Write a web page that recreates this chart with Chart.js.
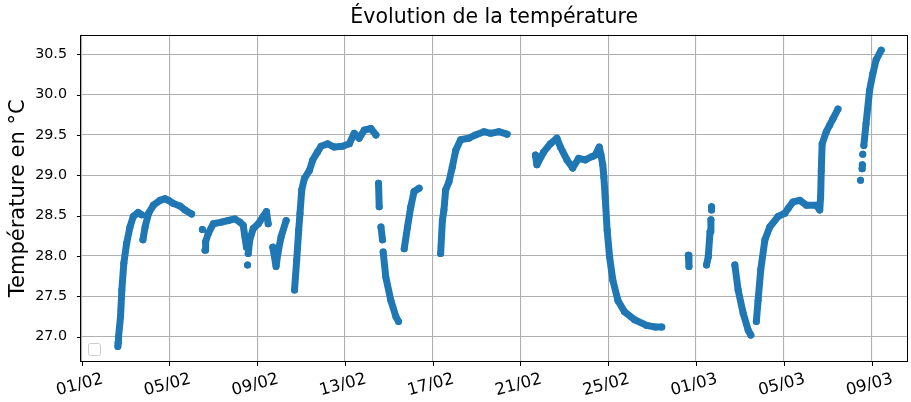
<!DOCTYPE html>
<html>
<head>
<meta charset="utf-8">
<script src="https://cdn.jsdelivr.net/npm/chart.js@4"></script>
<style>
  body { margin: 0; background: #fff; }
  canvas { display: block; }
</style>
</head>
<body>
<canvas id="tempChart" width="911" height="402"></canvas>
<script>
// jours depuis le 01/02 00:00, null = coupure entre les séries de mesures
const jours = [
  1.65, 1.66, 1.68, 1.77, 1.83, 1.92, 2.05, 2.20, 2.35, 2.57, 2.73, null,
  2.79, 2.89, 3.05, 3.27, 3.57, 3.80, 3.95, 4.18, 4.48, 4.71, 5.01, null,
  5.50, null,
  5.62, 5.65, 5.77, 6.00, 6.38, 6.68, 6.98, 7.21, 7.36, 7.44, 7.51, null,
  7.56, null,
  7.59, 7.66, 7.82, 8.05, 8.27, 8.42, 8.50, null,
  8.71, 8.86, 8.94, 9.09, 9.32, null,
  9.70, 9.80, 9.89, 9.95, 10.03, 10.15, 10.38, 10.53, 10.75, 10.91, 11.21, 11.51, 11.89, 12.20, 12.42, 12.65, 12.88, 13.18, 13.41, null,
  13.53, 13.56, null,
  13.64, 13.71, null,
  13.74, 13.86, 14.09, 14.32, 14.44, null,
  14.70, 14.85, 15.00, 15.15, 15.38, null,
  16.36, 16.44, 16.51, 16.59, 16.74, 16.89, 17.05, 17.27, 17.65, 17.95, 18.33, 18.64, 19.01, 19.39, null,
  20.68, 20.75, 21.06, 21.36, 21.66, 21.82, 22.12, 22.38, 22.65, 22.95, 23.25, 23.41, 23.59, 23.67, 23.75, 23.80, 23.86, 23.95, 24.06, 24.21, 24.44, 24.74, 25.20, 25.75, 26.14, 26.44, null,
  27.65, 27.68, null,
  28.48, 28.56, 28.64, 28.68, null,
  28.71, 28.71, null,
  29.77, 29.92, 30.15, 30.38, 30.50, null,
  30.75, 30.83, 30.95, 31.14, 31.36, 31.74, 32.05, 32.20, 32.42, 32.73, 33.03, 33.48, 33.64, 33.68, 33.71, 33.75, 33.94, 34.09, 34.24, 34.47, null,
  35.50, null,
  35.57, 35.58, null,
  35.60, null,
  35.65, 35.75, 35.91, 36.06, 36.21, 36.44
];
const temperatures = [
  26.88, 26.93, 27.00, 27.25, 27.58, 27.91, 28.16, 28.36, 28.49, 28.54, 28.51, null,
  28.20, 28.36, 28.53, 28.63, 28.69, 28.71, 28.69, 28.65, 28.62, 28.57, 28.52, null,
  28.33, null,
  28.07, 28.18, 28.28, 28.40, 28.42, 28.44, 28.46, 28.42, 28.38, 28.24, 28.11, null,
  27.89, null,
  28.03, 28.20, 28.34, 28.40, 28.49, 28.55, 28.40, null,
  28.11, 27.87, 28.03, 28.24, 28.44, null,
  27.58, 27.95, 28.32, 28.53, 28.82, 28.96, 29.06, 29.19, 29.29, 29.36, 29.39, 29.35, 29.36, 29.39, 29.52, 29.46, 29.56, 29.58, 29.50, null,
  28.90, 28.61, null,
  28.36, 28.20, null,
  28.05, 27.74, 27.45, 27.25, 27.19, null,
  28.09, 28.36, 28.61, 28.80, 28.84, null,
  28.03, 28.44, 28.57, 28.82, 28.92, 29.10, 29.31, 29.44, 29.46, 29.50, 29.54, 29.52, 29.54, 29.51, null,
  29.25, 29.13, 29.29, 29.39, 29.46, 29.35, 29.19, 29.09, 29.21, 29.19, 29.23, 29.25, 29.35, 29.25, 29.13, 28.98, 28.73, 28.32, 27.99, 27.70, 27.45, 27.31, 27.21, 27.14, 27.12, 27.12, null,
  28.01, 27.87, null,
  27.89, 27.99, 28.30, 28.45, null,
  28.61, 28.57, null,
  27.89, 27.58, 27.29, 27.08, 27.02, null,
  27.19, 27.45, 27.83, 28.20, 28.36, 28.49, 28.53, 28.59, 28.67, 28.69, 28.63, 28.63, 28.57, 28.73, 29.06, 29.39, 29.54, 29.62, 29.70, 29.82, null,
  28.94, null,
  29.08, 29.13, null,
  29.26, null,
  29.37, 29.64, 30.05, 30.26, 30.43, 30.55
];

const xTicks = [0, 4, 8, 12, 16, 20, 24, 28, 32, 36];
const xLabels = ["01/02", "05/02", "09/02", "13/02", "17/02", "21/02", "25/02", "01/03", "05/03", "09/03"];
const yTicks = [27.0, 27.5, 28.0, 28.5, 29.0, 29.5, 30.0, 30.5];

const points = jours.map((j, i) => ({ x: j, y: temperatures[i] }));

// cadre, graduations, étiquettes de dates inclinées et légende vide
const decor = {
  id: 'decor',
  afterDraw(chart) {
    const { ctx, chartArea: a, scales } = chart;
    ctx.save();
    ctx.strokeStyle = '#000';
    ctx.lineWidth = 1;
    ctx.strokeRect(Math.round(a.left) - 0.5, Math.round(a.top) + 0.5,
                   Math.round(a.right - a.left), Math.round(a.bottom - a.top) - 1);

    ctx.beginPath();
    xTicks.forEach(v => {
      const px = Math.round(scales.x.getPixelForValue(v)) + 0.5;
      ctx.moveTo(px, a.bottom);
      ctx.lineTo(px, a.bottom + 4);
    });
    yTicks.forEach(v => {
      const py = Math.round(scales.y.getPixelForValue(v)) + 0.5;
      ctx.moveTo(a.left - 4, py);
      ctx.lineTo(a.left, py);
    });
    ctx.stroke();

    ctx.fillStyle = '#000';
    ctx.font = '16.5px "DejaVu Sans"';
    ctx.textAlign = 'center';
    ctx.textBaseline = 'middle';
    xTicks.forEach((v, i) => {
      const px = scales.x.getPixelForValue(v);
      ctx.save();
      ctx.translate(px - 2, a.bottom + 23);
      ctx.rotate(-15 * Math.PI / 180);
      ctx.fillText(xLabels[i], 0, 0);
      ctx.restore();
    });

    // légende sans entrée
    ctx.beginPath();
    ctx.roundRect(a.left + 7.5, a.bottom - 18.5, 12, 12, 2);
    ctx.fillStyle = 'rgba(255,255,255,0.8)';
    ctx.fill();
    ctx.strokeStyle = '#cccccc';
    ctx.stroke();
    ctx.restore();
  }
};

new Chart(document.getElementById('tempChart'), {
  type: 'scatter',
  data: {
    datasets: [{
      data: points,
      showLine: true,
      spanGaps: false,
      borderColor: '#1f77b4',
      backgroundColor: '#1f77b4',
      borderWidth: 7,
      borderCapStyle: 'round',
      borderJoinStyle: 'round',
      pointRadius: 3.5,
      pointBorderWidth: 0,
      pointHoverRadius: 3.5
    }]
  },
  options: {
    responsive: false,
    animation: false,
    layout: { padding: { left: 0, right: 1, top: 0, bottom: 0 } },
    plugins: {
      legend: { display: false },
      tooltip: { enabled: false },
      title: {
        display: true,
        fullSize: false,
        text: 'Évolution de la température',
        color: '#000',
        font: { family: 'DejaVu Sans', size: 20.5, weight: 'normal' },
        padding: { top: 5, bottom: 5 }
      }
    },
    scales: {
      x: {
        type: 'linear',
        min: -0.032,
        max: 37.64,
        afterBuildTicks: s => { s.ticks = xTicks.map(v => ({ value: v })); },
        afterFit: s => { s.height = 40; },
        ticks: { display: false },
        grid: { color: '#b0b0b0', lineWidth: 1.1, drawTicks: false },
        border: { display: false }
      },
      y: {
        type: 'linear',
        min: 26.687,
        max: 30.743,
        afterBuildTicks: s => { s.ticks = yTicks.map(v => ({ value: v })); },
        afterFit: s => { s.width = 81; },
        ticks: {
          color: '#000',
          padding: 14,
          font: { family: 'DejaVu Sans', size: 14.3 },
          callback: v => v.toFixed(1)
        },
        grid: { color: '#b0b0b0', lineWidth: 1.1, drawTicks: false },
        border: { display: false },
        title: {
          display: true,
          text: 'Température en °C',
          color: '#000',
          font: { family: 'DejaVu Sans', size: 21 },
          padding: { top: 6, bottom: 0 }
        }
      }
    }
  },
  plugins: [decor]
});
</script>
</body>
</html>
